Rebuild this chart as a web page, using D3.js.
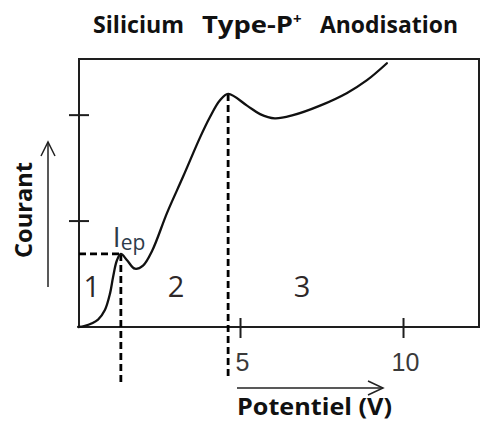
<!DOCTYPE html>
<html>
<head>
<meta charset="utf-8">
<script src="https://cdn.jsdelivr.net/npm/d3@7"></script>
<style>
  html, body { margin: 0; padding: 0; background: #fff; }
  svg { display: block; }
</style>
</head>
<body>
<svg id="chart" width="483" height="426"></svg>
<script>
// Anodic polarisation curve of P+ silicon: current vs. applied potential
const potentiel = [0.02, 0.23, 0.63, 0.84, 1.00, 1.09, 1.21, 1.33, 1.52, 1.76, 2.01, 2.29, 2.75,
                   3.24, 3.76, 4.06, 4.37, 4.62, 5.20, 5.60, 6.05, 6.61, 7.44, 8.27, 8.88, 9.49];
const courant   = [0.00, 0.01, 0.07, 0.16, 0.32, 0.47, 0.63, 0.69, 0.63, 0.55, 0.58, 0.72, 1.08,
                   1.42, 1.79, 1.98, 2.14, 2.20, 2.09, 2.01, 1.97, 2.00, 2.09, 2.21, 2.33, 2.49];

const xTicks = [5, 10];
const xTickLabels = ["5", "10"];
const yTicks = [1, 2];

// critical points: I_ep (first peak) and the second peak
const iepIndex = 7;
const peak2Index = 17;

// region numbering and where each number sits (V, I)
const regionLabels = ["1", "2", "3"];
const regionV = [0.44, 3.02, 6.89];
const regionI = [0.28, 0.28, 0.28];

const titleParts = ["Silicium", "Type-P", "Anodisation"];
const xTitle = "Potentiel (V)";
const yTitle = "Courant";

const svg = d3.select("#chart");
const box = { left: 79, top: 59, right: 479, bottom: 327 };

const x = d3.scaleLinear().domain([0, 12.3]).range([77.5, 478.5]);
const y = d3.scaleLinear().domain([0, 2.53]).range([327, 59]);

const ink = "#1e1e1e";

// frame
svg.append("rect")
  .attr("x", box.left).attr("y", box.top)
  .attr("width", box.right - box.left).attr("height", box.bottom - box.top)
  .attr("fill", "none").attr("stroke", ink).attr("stroke-width", 2);

// ticks crossing the axes
svg.selectAll(".xtick").data(xTicks).join("line")
  .attr("x1", d => x(d)).attr("x2", d => x(d))
  .attr("y1", box.bottom - 9).attr("y2", box.bottom + 11)
  .attr("stroke", ink).attr("stroke-width", 2);

svg.selectAll(".ytick").data(yTicks).join("line")
  .attr("x1", box.left - 10).attr("x2", box.left + 10)
  .attr("y1", d => y(d)).attr("y2", d => y(d))
  .attr("stroke", ink).attr("stroke-width", 2);

svg.selectAll(".xlabel").data(xTicks).join("text")
  .attr("x", d => x(d) + 2).attr("y", 371)
  .attr("text-anchor", "middle")
  .attr("font-family", "Liberation Sans, Arial, sans-serif")
  .attr("font-size", 25).attr("fill", "#3a3a3a")
  .text((d, i) => xTickLabels[i]);

// dashed guides at the two peaks
const dash = "7,4";
const dashW = 2.8;
const iep = [potentiel[iepIndex], courant[iepIndex]];
const pk2 = [potentiel[peak2Index], courant[peak2Index]];

svg.append("line")
  .attr("x1", box.left).attr("x2", x(iep[0]))
  .attr("y1", y(iep[1])).attr("y2", y(iep[1]))
  .attr("stroke", "#000").attr("stroke-width", dashW).attr("stroke-dasharray", dash);
svg.append("line")
  .attr("x1", x(iep[0])).attr("x2", x(iep[0]))
  .attr("y1", y(iep[1])).attr("y2", 383)
  .attr("stroke", "#000").attr("stroke-width", dashW).attr("stroke-dasharray", dash);
svg.append("line")
  .attr("x1", x(pk2[0])).attr("x2", x(pk2[0]))
  .attr("y1", y(pk2[1])).attr("y2", 380)
  .attr("stroke", "#000").attr("stroke-width", dashW).attr("stroke-dasharray", dash);

// the polarisation curve
const pts = potentiel.map((v, i) => [v, courant[i]]);
svg.append("path")
  .datum(pts)
  .attr("fill", "none").attr("stroke", "#111").attr("stroke-width", 2.3)
  .attr("stroke-linejoin", "round").attr("stroke-linecap", "round")
  .attr("d", d3.line().x(d => x(d[0])).y(d => y(d[1])).curve(d3.curveCatmullRom.alpha(0.5)));

// region numbers
svg.selectAll(".region").data(regionLabels).join("text")
  .attr("x", (d, i) => x(regionV[i])).attr("y", (d, i) => y(regionI[i]))
  .attr("text-anchor", "middle")
  .attr("font-family", "Open Sans, sans-serif")
  .attr("font-size", 29).attr("fill", "#2e2828")
  .text(d => d);

// I_ep label
const iepText = svg.append("text")
  .attr("x", x(iep[0]) - 8).attr("y", 247)
  .attr("font-family", "Open Sans, sans-serif")
  .attr("fill", "#2d3b4a");
iepText.append("tspan").attr("font-size", 28).text("I");
iepText.append("tspan").attr("font-size", 21).attr("dy", 3).text("ep");

// title
const titleStyle = sel => sel
  .attr("font-family", "Open Sans, sans-serif")
  .attr("font-weight", "bold").attr("font-size", 24).attr("fill", "#111");
svg.append("text").call(titleStyle).attr("x", 93).attr("y", 33)
  .attr("textLength", 91).attr("lengthAdjust", "spacingAndGlyphs").text(titleParts[0]);
const t2 = svg.append("text").call(titleStyle).attr("x", 202).attr("y", 33);
t2.append("tspan").attr("textLength", 91).attr("lengthAdjust", "spacingAndGlyphs").text(titleParts[1]);
t2.append("tspan").attr("font-size", 15).attr("dy", -9).text("+");
svg.append("text").call(titleStyle).attr("x", 320).attr("y", 33)
  .attr("textLength", 138).attr("lengthAdjust", "spacingAndGlyphs").text(titleParts[2]);

// axis titles
svg.append("text").call(titleStyle)
  .attr("transform", "translate(32,258) rotate(-90)")
  .attr("textLength", 96).attr("lengthAdjust", "spacingAndGlyphs")
  .text(yTitle);
svg.append("text").call(titleStyle)
  .attr("x", 237).attr("y", 415)
  .attr("textLength", 155).attr("lengthAdjust", "spacingAndGlyphs")
  .text(xTitle);

// direction arrows
const arrow = "#222";
svg.append("line").attr("x1", 48).attr("x2", 48).attr("y1", 287).attr("y2", 142)
  .attr("stroke", arrow).attr("stroke-width", 1.5);
svg.append("path").attr("d", "M41,156 L48,142 L55,156")
  .attr("fill", "none").attr("stroke", arrow).attr("stroke-width", 1.5);
svg.append("line").attr("x1", 237).attr("x2", 383).attr("y1", 388).attr("y2", 388)
  .attr("stroke", arrow).attr("stroke-width", 1.5);
svg.append("path").attr("d", "M368,381 L383,388 L368,395")
  .attr("fill", "none").attr("stroke", arrow).attr("stroke-width", 1.5);
</script>
</body>
</html>
